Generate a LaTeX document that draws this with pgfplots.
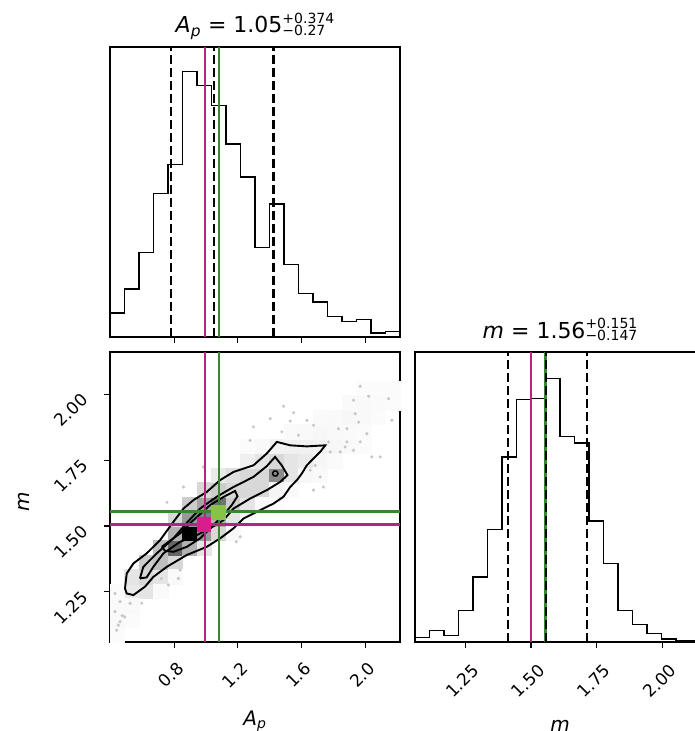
\documentclass[border=0pt]{standalone}
\usepackage{fontspec}
\setmainfont{DejaVu Sans}
\usepackage{pgfplots}
\pgfplotsset{compat=1.18}
\definecolor{mag}{RGB}{185,35,125}
\definecolor{magm}{RGB}{215,30,140}
\definecolor{grn}{RGB}{55,135,45}
\definecolor{grnm}{RGB}{135,195,70}
\newcommand{\tstack}[2]{\raisebox{3pt}{\fontsize{14}{14}\selectfont\begin{tabular}{@{}l@{}}#1\\[-3pt]#2\end{tabular}}}
\pgfplotsset{
  corner/.style={
    scale only axis, width=290pt, height=290pt, anchor=south west,
    axis line style={line width=1.2pt, black},
    every tick/.style={line width=1.1pt, black},
    tick align=outside, major tick length=6pt,
    xtick pos=left, ytick pos=left,
    /pgf/number format/assume math mode=true,
    ticklabel style={font=\fontsize{17}{20}\selectfont},
    every axis title/.style={at={(axis description cs:0.5,1)}, anchor=base, yshift=14pt, font=\fontsize{22}{26}\selectfont},
  },
  hist/.style={black, line width=1.5pt, const plot, mark=none},
  qline/.style={black, line width=2.2pt, dash pattern=on 9pt off 4pt},
}
\begin{document}
\begin{tikzpicture}
\useasboundingbox (0,0) rectangle (695pt,731pt);

% ---------- top-left: A_p histogram
\begin{axis}[corner, at={(110pt,394pt)},
  xmin=0.398, xmax=2.218, ymin=0, ymax=867,
  xtick={0.8,1.2,1.6,2.0}, xticklabels={}, ytick=\empty,
  title={\textit{A}\textsubscript{\textit{p}} = 1.05\tstack{+0.374}{\char"2212 0.27}}]
\addplot[hist] coordinates {
(0.398,72) (0.489,144) (0.580,252) (0.671,429) (0.762,515) (0.853,794) (0.944,752)
(1.035,692) (1.126,577) (1.217,479) (1.308,267) (1.399,397) (1.490,217) (1.581,130)
(1.672,104) (1.763,62) (1.854,47) (1.945,52) (2.036,12) (2.127,17) (2.218,17)};
\addplot[qline] coordinates {(0.78,0) (0.78,867)};
\addplot[qline] coordinates {(1.05,0) (1.05,867)};
\addplot[qline] coordinates {(1.424,0) (1.424,867)};
\addplot[mag, line width=2.5pt] coordinates {(0.995,0) (0.995,867)};
\addplot[grn, line width=2.5pt] coordinates {(1.083,0) (1.083,867)};
\end{axis}

% ---------- bottom-left: 2D
\begin{axis}[corner, at={(110pt,89pt)}, clip mode=individual,
  xmin=0.398, xmax=2.218, ymin=1.06, ymax=2.16,
  xtick={0.8,1.2,1.6,2.0}, xticklabels={0.8,1.2,1.6,2.0},
  ytick={1.25,1.50,1.75,2.00}, yticklabels={1.25,1.50,1.75,2.00},
  xticklabel style={anchor=center, xshift=-3pt, yshift=-27pt, rotate=45},
  yticklabel style={anchor=center, xshift=-33pt, yshift=-16pt, rotate=45},
  xlabel={\textit{A}\textsubscript{\textit{p}}},
  ylabel={\textit{m}},
  every axis x label/.style={at={(axis description cs:0.5,0)}, anchor=base, yshift=-83pt, font=\fontsize{20}{24}\selectfont},
  every axis y label/.style={at={(axis description cs:0,0.5)}, xshift=-86pt, yshift=-5pt, rotate=90, anchor=center, font=\fontsize{20}{24}\selectfont},
  colormap={gk}{color=(white) color=(black)}, point meta min=0, point meta max=10]
\addplot[scatter, only marks, mark=square*, mark size=7.3pt, scatter src=explicit,
  scatter/use mapped color={draw=mapped color, fill=mapped color},
  mark options={line width=0.3pt}] table[meta=v] {
x y v
0.5345 1.2525 0.8
0.6255 1.2525 1
0.5345 1.3075 1
0.6255 1.3075 1.5
0.7165 1.3075 1
0.6255 1.3625 2
0.7165 1.3625 2.5
0.8075 1.3625 1.5
0.7165 1.4175 2.5
0.8075 1.4175 6
0.8985 1.4175 3
0.9895 1.4175 1
0.8075 1.4725 3
0.8985 1.4725 10
0.9895 1.4725 4
1.0805 1.4725 1.5
0.8075 1.5275 1.5
0.8985 1.5275 4
0.9895 1.5275 5
1.0805 1.5275 3
1.1715 1.5275 1
0.8985 1.5825 2
0.9895 1.5825 3.5
1.0805 1.5825 5.5
1.1715 1.5825 2
1.2625 1.5825 1
0.9895 1.6375 1.5
1.0805 1.6375 2
1.1715 1.6375 1.5
1.2625 1.6375 1.5
1.3535 1.6375 1.5
1.0805 1.6925 0.8
1.1715 1.6925 1.2
1.2625 1.6925 1.5
1.3535 1.6925 1.5
1.4445 1.6925 4.5
1.5355 1.6925 1
1.2625 1.7475 0.6
1.3535 1.7475 1
1.4445 1.7475 1.5
1.5355 1.7475 1
1.6265 1.7475 0.8
1.4445 1.8025 0.5
1.5355 1.8025 0.6
1.6265 1.8025 0.6
1.7175 1.8025 0.5
0.4435 1.0875 0.15
0.4435 1.1425 0.25
0.5345 1.1425 0.15
0.4435 1.1975 0.2
0.5345 1.1975 0.25
0.4435 1.2525 0.15
0.7165 1.2525 0.2
0.8075 1.3075 0.25
1.1715 1.4725 0.25
1.2625 1.5275 0.2
1.3535 1.5825 0.25
1.4445 1.5825 0.15
1.4445 1.6375 0.4
1.5355 1.6375 0.2
1.6265 1.6925 0.3
1.7175 1.6925 0.2
1.7175 1.7475 0.3
1.8085 1.7475 0.2
1.8085 1.8025 0.3
1.8995 1.8025 0.25
1.9905 1.8025 0.15
1.2625 1.8025 0.15
1.3535 1.8025 0.25
1.5355 1.8575 0.2
1.6265 1.8575 0.25
1.7175 1.8575 0.3
1.8085 1.8575 0.25
1.8995 1.8575 0.2
1.9905 1.8575 0.15
1.7175 1.9125 0.2
1.8085 1.9125 0.25
1.8995 1.9125 0.3
1.9905 1.9125 0.25
2.0815 1.9125 0.15
1.8995 1.9675 0.2
1.9905 1.9675 0.25
2.0815 1.9675 0.2
2.1725 1.9675 0.15
1.9905 2.0225 0.15
2.0815 2.0225 0.15
2.1725 2.0225 0.15
};
\addplot[only marks, mark=*, mark size=1.4pt, black!22, mark options={draw=none}] coordinates {
(1.968,2.030) (2.021,1.992) (2.146,1.983) (1.926,1.977) (1.487,1.954) (1.403,1.907)
(1.937,1.926) (2.167,1.901) (1.529,1.898) (1.634,1.901) (1.832,1.869) (1.885,1.869)
(1.958,1.894) (1.298,1.876) (1.277,1.825) (1.477,1.857) (1.581,1.844) (1.769,1.819)
(1.885,1.819) (1.968,1.819) (2.010,1.850) (1.780,1.781) (1.843,1.781) (2.041,1.762)
(1.686,1.730) (1.717,1.686) (1.738,1.648) (1.675,1.636) (1.466,1.604) (1.926,1.787)
(2.094,1.762) (1.874,1.800) (1.654,1.712) (1.675,1.882) (1.550,1.930)
(0.859,1.648) (0.984,1.724) (0.756,1.590) (1.215,1.459) (1.190,1.440) (0.838,1.333)
(0.764,1.276) (0.720,1.300) (0.827,1.301)
(0.429,1.244) (0.461,1.213) (0.429,1.175) (0.475,1.160) (0.490,1.155) (0.524,1.207)
(0.450,1.124) (0.440,1.105) (0.597,1.207) (0.461,1.137)};
% contours
\addplot[black, line width=1.9pt, mark=none] coordinates {
(0.492,1.263) (0.503,1.320) (0.545,1.358) (0.628,1.396) (0.712,1.446) (0.796,1.516)
(0.859,1.566) (0.921,1.598) (1.005,1.629) (1.089,1.674) (1.173,1.705) (1.298,1.730)
(1.382,1.775) (1.445,1.819) (1.529,1.806) (1.633,1.802) (1.749,1.806) (1.717,1.781)
(1.675,1.756) (1.633,1.730) (1.602,1.699) (1.571,1.674) (1.529,1.648) (1.487,1.611)
(1.424,1.585) (1.340,1.560) (1.235,1.528) (1.173,1.491) (1.089,1.453) (1.005,1.421)
(0.880,1.390) (0.754,1.345) (0.670,1.307) (0.618,1.270) (0.545,1.238) (0.503,1.244)
(0.492,1.263)};
\addplot[black, line width=1.9pt, mark=none] coordinates {
(0.586,1.301) (0.607,1.345) (0.691,1.396) (0.796,1.453) (0.880,1.512) (0.963,1.566)
(1.068,1.611) (1.173,1.648) (1.298,1.686) (1.382,1.727) (1.434,1.762) (1.476,1.730)
(1.512,1.693) (1.466,1.667) (1.382,1.636) (1.277,1.604) (1.173,1.566) (1.110,1.522)
(1.026,1.491) (0.942,1.465) (0.838,1.440) (0.733,1.396) (0.670,1.345) (0.628,1.305)
(0.586,1.301)};
\addplot[black, line width=1.9pt, mark=none] coordinates {
(0.723,1.421) (0.838,1.472) (0.921,1.522) (1.026,1.579) (1.110,1.610) (1.183,1.633)
(1.198,1.613) (1.162,1.579) (1.100,1.535) (1.026,1.491) (0.963,1.453) (0.880,1.421)
(0.796,1.402) (0.743,1.406) (0.723,1.421)};
\addplot[black, line width=1.5pt, mark=none] coordinates {
(1.417,1.699) (1.426,1.708) (1.444,1.708) (1.453,1.699) (1.444,1.690) (1.426,1.690) (1.417,1.699)};
% truths
\addplot[mag, line width=2.5pt, mark=none] coordinates {(0.995,1.06) (0.995,2.16)};
\addplot[grn, line width=2.5pt, mark=none] coordinates {(1.083,1.06) (1.083,2.16)};
\addplot[mag, line width=2.5pt, mark=none] coordinates {(0.398,1.505) (2.218,1.505)};
\addplot[grn, line width=2.5pt, mark=none] coordinates {(0.398,1.555) (2.218,1.555)};
\addplot[only marks, mark=square*, mark size=6.8pt, magm, mark options={solid}] coordinates {(0.985,1.507)};
\addplot[only marks, mark=square*, mark size=6.8pt, grnm, mark options={solid}] coordinates {(1.078,1.552)};
\end{axis}

% ---------- bottom-right: m histogram
\begin{axis}[corner, at={(415pt,89pt)},
  xmin=1.06, xmax=2.16, ymin=0, ymax=870,
  xtick={1.25,1.50,1.75,2.00}, xticklabels={1.25,1.50,1.75,2.00}, ytick=\empty,
  xticklabel style={anchor=center, xshift=-3pt, yshift=-33pt, rotate=45},
  xlabel={\textit{m}},
  every axis x label/.style={at={(axis description cs:0.5,0)}, anchor=base, yshift=-89pt, font=\fontsize{20}{24}\selectfont},
  title={\textit{m} = 1.56\tstack{+0.151}{\char"2212 0.147}}]
\addplot[hist] coordinates {
(1.060,13) (1.115,35) (1.170,20) (1.225,95) (1.280,195) (1.335,337) (1.390,555)
(1.445,727) (1.500,730) (1.555,790) (1.610,617) (1.665,597) (1.720,363) (1.775,235)
(1.830,95) (1.885,52) (1.940,25) (1.995,9) (2.050,5) (2.105,4) (2.160,4)};
\addplot[mag, line width=2.5pt] coordinates {(1.50,0) (1.50,870)};
\addplot[grn, line width=2.5pt] coordinates {(1.555,0) (1.555,870)};
\addplot[qline] coordinates {(1.413,0) (1.413,870)};
\addplot[qline] coordinates {(1.558,0) (1.558,870)};
\addplot[qline] coordinates {(1.711,0) (1.711,870)};
\end{axis}
\end{tikzpicture}
\end{document}
